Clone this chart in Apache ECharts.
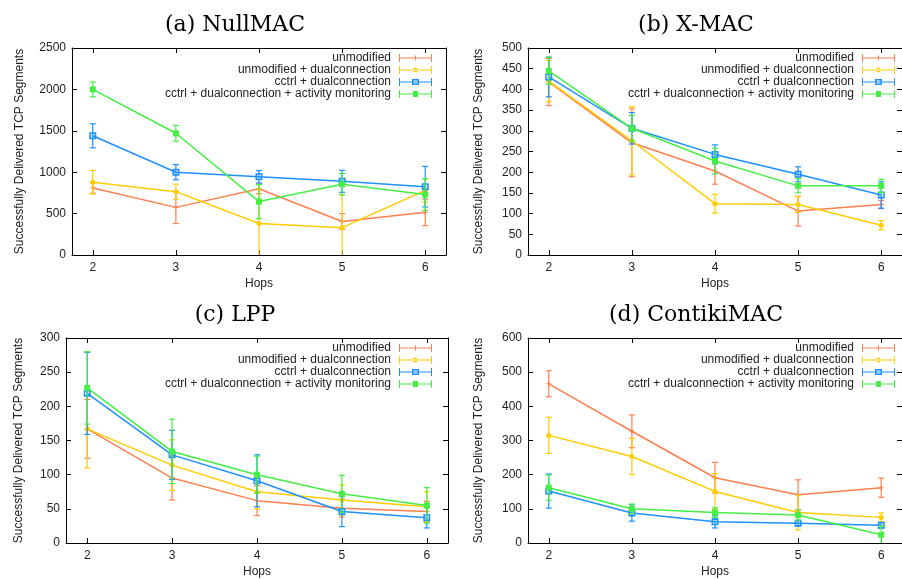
<!DOCTYPE html>
<html>
<head>
<meta charset="utf-8">
<script src="https://cdn.jsdelivr.net/npm/echarts@6/dist/echarts.min.js"></script>
<style>html,body{margin:0;padding:0;background:#fff;}#c{width:902px;height:579px;}</style>
</head>
<body>
<div id="c"></div>
<script>
// ---- data ----
const hops = [2, 3, 4, 5, 6];
const seriesNames = ['unmodified', 'unmodified + dualconnection', 'cctrl + dualconnection', 'cctrl + dualconnection + activity monitoring'];
const panelTitles = ['(a) NullMAC', '(b) X-MAC', '(c) LPP', '(d) ContikiMAC'];
const yMax = [2500, 500, 300, 600];
const yStep = [500, 50, 50, 100];

// NullMAC
const nullmacUnmod = [810, 575, 800, 405, 515];
const nullmacUnmodErr = [65, 195, 60, 95, 160];
const nullmacUnmodDual = [880, 765, 380, 330, 780];
const nullmacUnmodDualErr = [142, 90, 420, 400, 140];
const nullmacCctrlDual = [1440, 1000, 945, 890, 825];
const nullmacCctrlDualErr = [145, 92, 75, 133, 245];
const nullmacCctrlDualAm = [2000, 1470, 645, 855, 730];
const nullmacCctrlDualAmErr = [90, 95, 205, 130, 190];

// X-MAC
const xmacUnmod = [418, 271, 203, 106, 122];
const xmacUnmodErr = [57, 82, 32, 36, 10];
const xmacUnmodDual = [420, 276, 124, 122, 72];
const xmacUnmodDualErr = [50, 82, 23, 19, 11];
const xmacCctrlDual = [430, 306, 243, 195, 145];
const xmacCctrlDualErr = [48, 38, 23, 18, 32];
const xmacCctrlDualAm = [445, 306, 227, 167, 167];
const xmacCctrlDualAmErr = [33, 31, 31, 17, 16];

// LPP
const lppUnmod = [167, 95, 62, 51, 46];
const lppUnmodErr = [43, 32, 22, 13, 15];
const lppUnmodDual = [167, 114, 75, 63, 53];
const lppUnmodDualErr = [57, 37, 25, 22, 22];
const lppCctrlDual = [219, 129, 91, 46, 37];
const lppCctrlDualErr = [60, 36, 38, 22, 15];
const lppCctrlDualAm = [227, 134, 100, 72, 55];
const lppCctrlDualAmErr = [53, 47, 27, 27, 26];

// ContikiMAC
const contikiUnmod = [466, 327, 191, 141, 162];
const contikiUnmodErr = [38, 48, 45, 44, 28];
const contikiUnmodDual = [315, 253, 151, 89, 75];
const contikiUnmodDualErr = [53, 53, 52, 51, 13];
const contikiCctrlDual = [152, 88, 62, 58, 52];
const contikiCctrlDualErr = [50, 24, 18, 8, 8];
const contikiCctrlDualAm = [162, 100, 89, 82, 24];
const contikiCctrlDualAmErr = [37, 14, 14, 15, 26];

const panels = [
  [[nullmacUnmod, nullmacUnmodErr], [nullmacUnmodDual, nullmacUnmodDualErr], [nullmacCctrlDual, nullmacCctrlDualErr], [nullmacCctrlDualAm, nullmacCctrlDualAmErr]],
  [[xmacUnmod, xmacUnmodErr], [xmacUnmodDual, xmacUnmodDualErr], [xmacCctrlDual, xmacCctrlDualErr], [xmacCctrlDualAm, xmacCctrlDualAmErr]],
  [[lppUnmod, lppUnmodErr], [lppUnmodDual, lppUnmodDualErr], [lppCctrlDual, lppCctrlDualErr], [lppCctrlDualAm, lppCctrlDualAmErr]],
  [[contikiUnmod, contikiUnmodErr], [contikiUnmodDual, contikiUnmodDualErr], [contikiCctrlDual, contikiCctrlDualErr], [contikiCctrlDualAm, contikiCctrlDualAmErr]]
];

// ---- styling ----
const colors = ['#ff7f50', '#ffcc00', '#1e90ff', '#44ee44'];
const FONT = 'Liberation Sans';
const grids = [
  {left: 72, top: 48, width: 374, height: 207},
  {left: 528, top: 48, width: 382, height: 207},
  {left: 66, top: 338, width: 382, height: 207},
  {left: 528, top: 338, width: 382, height: 206}
];
const titlePos = [[230, 9], [691, 9], [230, 299], [691, 299]];
const yNameGap = [46, 43, 41, 43];
const legendPos = [[465, 47], [2, 47], [465, 337], [2, 337]];

const capBars = 'M0,0h1v8h-1z M0,3.5h33v1h-33z M32,0h1v8h-1z ';
const legendIcons = [
  'path://' + capBars + 'M14,3.5h5v1h-5z M16,1.5h1v5h-1z',
  'path://' + capBars + 'M16.5,1.5a2.5,2.5 0 1,0 0.01,0z',
  'path://' + capBars + 'M13,1h7v6h-7z M14.5,2.5v3h4v-3z',
  'path://' + capBars + 'M14,1h5v6h-5z'
];
const symbols = [
  'path://M2,0h1v5h-1z M0,2h5v1h-5z',
  'circle',
  'path://M0,0h7v7h-7z M1.6,1.6v3.8h3.8v-3.8z',
  'rect'
];
const symbolSizes = [5, 5, 7, 6];

function errRender(params, api) {
  const x = api.value(0), lo = api.value(1), hi = api.value(2);
  const p1 = api.coord([x, hi]);
  const p2 = api.coord([x, lo]);
  const col = api.visual('color');
  const st = {stroke: col, lineWidth: 1.2};
  return {
    type: 'group',
    children: [
      {type: 'line', shape: {x1: p1[0], y1: p1[1], x2: p2[0], y2: p2[1]}, style: st},
      {type: 'line', shape: {x1: p1[0] - 3, y1: p1[1], x2: p1[0] + 3, y2: p1[1]}, style: st},
      {type: 'line', shape: {x1: p2[0] - 3, y1: p2[1], x2: p2[0] + 3, y2: p2[1]}, style: st}
    ]
  };
}

const option = {
  animation: false,
  backgroundColor: '#fff',
  title: [], grid: [], xAxis: [], yAxis: [], legend: [], series: []
};

for (let p = 0; p < 4; p++) {
  option.title.push({
    text: panelTitles[p], left: titlePos[p][0], top: titlePos[p][1], textAlign: 'center',
    textStyle: {fontFamily: 'DejaVu Serif', fontSize: 22, fontWeight: 'normal', color: '#000'}
  });
  option.grid.push(Object.assign({containLabel: false}, grids[p]));
  const axLine = {show: true, onZero: false, lineStyle: {color: '#000', width: 1}};
  option.xAxis.push({
    gridIndex: p, type: 'value', min: 1.75, max: 6.25,
    name: 'Hops', nameLocation: 'middle', nameGap: 23,
    nameTextStyle: {fontFamily: FONT, fontSize: 12, color: '#222'},
    axisLine: axLine,
    axisTick: {inside: true, length: 5, customValues: hops, lineStyle: {color: '#000'}},
    axisLabel: {customValues: hops, margin: 7, fontFamily: FONT, fontSize: 12, color: '#222'},
    splitLine: {show: false}
  });
  option.xAxis.push({
    gridIndex: p, type: 'value', min: 1.75, max: 6.25, position: 'top',
    axisLine: axLine,
    axisTick: {inside: true, length: 5, customValues: hops, lineStyle: {color: '#000'}},
    axisLabel: {show: false}, splitLine: {show: false}
  });
  option.yAxis.push({
    gridIndex: p, type: 'value', min: 0, max: yMax[p], interval: yStep[p],
    name: 'Successfully Delivered TCP Segments', nameLocation: 'middle', nameGap: yNameGap[p],
    nameTextStyle: {fontFamily: FONT, fontSize: 12, color: '#222'},
    axisLine: axLine,
    axisTick: {inside: true, length: 5, lineStyle: {color: '#000'}},
    axisLabel: {margin: 6, fontFamily: FONT, fontSize: 12, color: '#222', formatter: v => String(v)},
    splitLine: {show: false}
  });
  option.yAxis.push({
    gridIndex: p, type: 'value', min: 0, max: yMax[p], interval: yStep[p], position: 'right',
    axisLine: axLine,
    axisTick: {inside: true, length: 5, lineStyle: {color: '#000'}},
    axisLabel: {show: false}, splitLine: {show: false}
  });
  option.legend.push({
    orient: 'vertical', right: legendPos[p][0], top: legendPos[p][1], align: 'right',
    itemGap: 0, itemWidth: 33, itemHeight: 8, selectedMode: false,
    textStyle: {fontFamily: FONT, fontSize: 12, color: '#222', lineHeight: 12, padding: [0, 3, 0, 0]},
    data: seriesNames.map((n, i) => ({name: n, icon: legendIcons[i]}))
  });
  for (let s = 0; s < 4; s++) {
    const vals = panels[p][s][0], errs = panels[p][s][1];
    option.series.push({
      type: 'custom', name: seriesNames[s], xAxisIndex: 2 * p, yAxisIndex: 2 * p,
      clip: true, itemStyle: {color: colors[s]}, z: 2 + s,
      renderItem: errRender, encode: {x: 0, y: [1, 2]},
      data: hops.map((h, i) => [h, vals[i] - errs[i], vals[i] + errs[i]])
    });
    option.series.push({
      type: 'line', name: seriesNames[s], xAxisIndex: 2 * p, yAxisIndex: 2 * p,
      color: colors[s], symbol: symbols[s], symbolSize: symbolSizes[s], showSymbol: true,
      z: 2 + s,
      itemStyle: {color: colors[s]},
      lineStyle: {color: colors[s], width: 1.5},
      data: hops.map((h, i) => [h, vals[i]])
    });
  }
}

const chart = echarts.init(document.getElementById('c'), null, {renderer: 'canvas'});
chart.setOption(option);
</script>
</body>
</html>
